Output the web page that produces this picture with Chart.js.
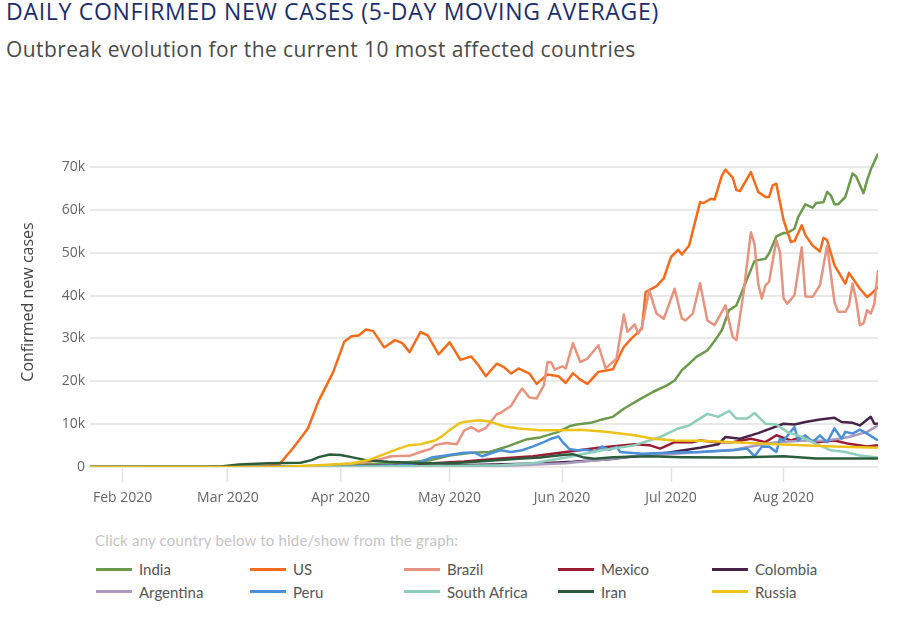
<!DOCTYPE html>
<html>
<head>
<meta charset="utf-8">
<title>Daily confirmed new cases</title>
<script src="https://cdn.jsdelivr.net/npm/chart.js@4.4.1/dist/chart.umd.min.js"></script>
<style>
  body { margin: 0; background: #fff; }
  .page { position: relative; width: 915px; height: 627px; overflow: hidden; }
  h1 { position: absolute; left: 6px; top: 0; margin: 0; font: 400 23px/23px 'Open Sans', sans-serif; letter-spacing: 0.7px; color: #1c2d6c; white-space: nowrap; }
  h2 { position: absolute; left: 6px; top: 39px; margin: 0; font: 400 21px/21px 'Open Sans', sans-serif; letter-spacing: 0.4px; color: #4a4a4a; white-space: nowrap; }
  #chart-box { position: absolute; left: 0; top: 100px; width: 915px; height: 420px; }
  .hint { position: absolute; left: 95px; top: 531px; font: 15px 'Lato', sans-serif; letter-spacing: 0.2px; color: #c4c4c4; }
  #legend { position: absolute; left: 96px; top: 558px; display: grid; grid-template-columns: repeat(5, 154px); }
  .item { display: flex; align-items: center; height: 22.5px; cursor: pointer; font: 15px 'Lato', sans-serif; color: #555; }
  .item.off { opacity: 0.35; }
  .swatch { width: 36px; height: 3px; margin-right: 7px; }
</style>
</head>
<body>
<div class="page">
  <h1>DAILY CONFIRMED NEW CASES (5-DAY MOVING AVERAGE)</h1>
  <h2>Outbreak evolution for the current 10 most affected countries</h2>
  <div id="chart-box"><canvas id="cases-chart"></canvas></div>
  <div class="hint">Click any country below to hide/show from the graph:</div>
  <div id="legend"></div>
</div>
<script>
// x = day of 2020 (Jan 1 = 0), y = new cases in thousands (5-day average)
const countries = ['India', 'US', 'Brazil', 'Mexico', 'Colombia', 'Argentina', 'Peru', 'South Africa', 'Iran', 'Russia']
const colors = ['#6c9a4c', '#f36c1c', '#e6937f', '#9c1b33', '#4a2348', '#aa9cc0', '#4a8fd8', '#8fceba', '#2b5d3d', '#ecc31a']

const monthTicks = [31, 60, 91, 121, 152, 182, 213]
const monthLabels = ['Feb 2020', 'Mar 2020', 'Apr 2020', 'May 2020', 'Jun 2020', 'Jul 2020', 'Aug 2020']
const yTicks = [0, 10000, 20000, 30000, 40000, 50000, 60000, 70000]
const yLabels = ['0', '10k', '20k', '30k', '40k', '50k', '60k', '70k']

const india = [[22,0],[60,0],[75,0.05],[85,0.2],[95,0.5],[105,0.9],[112,1.3],[116,1.6],[121,2.7],[127,3.3],[132,3.5],[137,4.8],[142,6.4],[146,6.9],[151,8.2],[154,9.5],[156,9.9],[160,10.3],[163,11.1],[166,11.7],[169,13.6],[173,15.6],[177,17.5],[181,19.1],[183,20.2],[185,22.6],[187,24.1],[189,25.7],[192,27.2],[194,29.4],[196,31.9],[198,36.6],[200,37.7],[203,44.0],[205,48.1],[208,48.6],[209,49.8],[211,53.8],[213,54.6],[214,54.6],[216,55.6],[217,58.3],[219,61.3],[221,60.5],[222,61.6],[224,61.8],[225,64.2],[226,63.4],[227,61.3],[228,61.3],[230,63.0],[232,68.5],[233,67.8],[235,63.9],[236,66.9],[237,69.4],[239,73.1]]
const us = [[22,0],[50,0],[60,0.01],[66,0.1],[70,0.3],[74,0.5],[78,4.5],[82,9.0],[85,15.5],[89,22.2],[92,29.2],[94,30.5],[96,30.7],[98,32.1],[100,31.7],[103,27.9],[106,29.6],[108,28.9],[110,26.8],[113,31.5],[115,30.7],[118,26.3],[121,29.1],[122,27.8],[124,25.0],[127,25.8],[129,23.7],[131,21.2],[134,24.1],[136,23.3],[138,21.8],[140,23.0],[143,21.8],[145,19.4],[148,21.6],[151,21.2],[153,19.6],[155,21.9],[157,20.4],[159,19.4],[162,22.2],[166,22.8],[169,28.0],[171,29.9],[174,32.3],[175,40.8],[178,42.2],[180,44.0],[182,49.0],[184,50.7],[185,49.6],[187,51.7],[190,61.8],[191,61.6],[193,62.6],[194,62.4],[196,68.0],[197,69.4],[199,67.5],[200,64.6],[201,64.4],[204,68.8],[206,64.2],[208,63.0],[209,63.0],[210,65.7],[211,66.1],[213,57.6],[215,52.5],[216,52.7],[218,56.4],[219,54.1],[221,51.7],[223,50.3],[224,53.5],[225,52.9],[227,47.1],[230,42.8],[231,45.3],[234,41.6],[236,39.7],[237,40.3],[239,42.0]]
const brazil = [[22,0],[60,0],[70,0.05],[80,0.2],[87,0.4],[94,0.8],[99,1.2],[105,2.5],[110,2.6],[113,3.5],[116,4.3],[117,5.1],[120,5.6],[123,5.3],[125,8.5],[127,9.3],[129,8.3],[131,9.1],[134,12.3],[135,12.6],[138,14.3],[140,17.1],[141,18.3],[143,16.2],[145,16.0],[147,19.1],[148,24.5],[149,24.4],[150,22.7],[152,23.5],[153,23.0],[155,28.9],[157,24.5],[159,25.3],[162,28.4],[164,23.0],[167,25.3],[169,35.6],[170,31.5],[172,33.3],[173,31.1],[174,32.7],[176,41.2],[178,35.8],[180,34.6],[183,41.6],[185,34.6],[186,34.2],[188,35.8],[190,42.9],[192,34.2],[194,33.1],[197,37.7],[199,30.3],[200,29.6],[202,40.8],[204,54.8],[205,52.0],[206,42.8],[207,39.3],[208,42.4],[209,43.2],[211,52.9],[212,50.2],[213,39.3],[214,38.1],[216,40.1],[218,51.3],[219,39.8],[221,39.7],[223,42.4],[225,51.7],[227,38.5],[228,36.2],[230,36.2],[231,37.7],[232,42.8],[233,38.9],[234,33.1],[235,33.5],[236,36.6],[237,35.8],[238,38.1],[239,45.9]]
const mexico = [[22,0],[80,0.02],[95,0.2],[105,0.4],[115,0.8],[125,1.3],[135,2.0],[144,2.5],[153,3.5],[162,4.5],[172,5.3],[176,5.1],[179,4.3],[183,5.8],[188,5.8],[190,6.2],[195,5.8],[199,5.8],[204,6.6],[208,5.8],[211,7.4],[215,6.2],[218,7.0],[222,5.8],[227,6.2],[231,5.4],[236,4.8],[239,5.1]]
const colombia = [[22,0],[90,0.05],[110,0.2],[130,0.5],[145,0.8],[155,1.2],[165,1.8],[172,2.5],[181,3.3],[190,4.5],[195,5.3],[197,7.0],[201,6.6],[206,7.9],[213,10.1],[216,9.9],[219,10.5],[223,11.1],[227,11.5],[229,10.5],[232,10.3],[234,9.7],[237,11.7],[238,10.1],[239,10.1]]
const argentina = [[22,0],[90,0.01],[110,0.05],[130,0.2],[140,0.4],[153,0.9],[163,1.7],[172,2.5],[181,3.0],[190,3.5],[199,4.0],[204,4.8],[211,5.8],[218,6.1],[225,6.2],[231,7.0],[236,8.2],[239,9.7]]
const peru = [[22,0],[75,0],[95,0.1],[107,0.4],[112,0.9],[116,2.2],[120,2.7],[125,3.3],[128,3.3],[130,2.5],[132,3.1],[135,3.9],[138,3.5],[141,3.9],[144,4.8],[147,5.8],[149,6.6],[151,7.1],[152,6.0],[154,4.2],[156,3.9],[159,4.0],[161,3.5],[163,4.8],[165,4.0],[167,4.7],[168,3.5],[174,3.1],[181,3.3],[190,3.5],[199,3.9],[203,4.3],[205,2.5],[207,4.7],[209,4.8],[211,3.5],[212,6.6],[213,6.2],[216,9.3],[217,6.2],[219,7.4],[221,5.8],[223,7.4],[225,5.8],[227,9.0],[229,6.6],[230,8.2],[232,7.8],[234,8.7],[236,7.8],[239,6.2]]
const southAfrica = [[22,0],[80,0.01],[95,0.05],[110,0.15],[125,0.3],[135,0.4],[144,0.9],[153,2.2],[163,3.9],[172,5.1],[179,7.0],[184,9.0],[187,9.7],[192,12.4],[195,11.7],[198,13.1],[200,11.3],[203,11.3],[205,12.6],[208,10.1],[211,9.9],[214,8.2],[218,7.0],[222,5.4],[226,3.9],[230,3.5],[234,2.7],[239,2.2]]
const iran = [[22,0],[54,0.02],[58,0.1],[63,0.6],[71,0.9],[80,1.0],[83,1.6],[85,2.3],[88,2.9],[91,2.8],[94,2.3],[98,1.6],[104,1.2],[113,0.9],[122,0.9],[131,1.4],[140,1.9],[146,2.2],[152,2.8],[155,3.0],[158,2.2],[161,1.9],[166,2.3],[176,2.5],[185,2.3],[200,2.2],[213,2.5],[222,2.0],[239,2.0]]
const russia = [[22,0],[60,0],[75,0.05],[85,0.4],[94,0.8],[99,1.7],[103,3.0],[107,4.3],[110,5.1],[113,5.3],[117,6.2],[119,7.2],[121,8.6],[122,9.2],[124,10.3],[125,10.5],[129,10.9],[132,10.6],[136,9.5],[140,9.0],[146,8.6],[152,8.6],[157,8.7],[164,8.2],[172,7.4],[177,6.6],[183,6.2],[190,6.1],[199,5.8],[208,5.4],[218,5.1],[227,4.8],[239,4.5]]

const series = [india, us, brazil, mexico, colombia, argentina, peru, southAfrica, iran, russia]

const datasets = countries.map((name, i) => ({
  label: name,
  data: series[i].map(p => ({ x: p[0], y: p[1] * 1000 })),
  borderColor: colors[i],
  backgroundColor: colors[i],
  borderWidth: 2.5,
  borderJoinStyle: 'round',
  pointRadius: 0,
  tension: 0,
  fill: false,
  order: countries.length - i   // later countries drawn on top, as in the original
}))

const chart = new Chart(document.getElementById('cases-chart'), {
  type: 'line',
  data: { datasets },
  options: {
    responsive: true,
    maintainAspectRatio: false,
    animation: false,
    layout: { padding: { top: 37, right: 37, left: 0, bottom: 0 } },
    plugins: { legend: { display: false }, tooltip: { enabled: false } },
    scales: {
      x: {
        type: 'linear',
        min: 22,
        max: 239,
        afterBuildTicks: axis => { axis.ticks = monthTicks.map(v => ({ value: v })) },
        afterFit: axis => { axis.height = 53 },
        border: { display: false },
        grid: { drawOnChartArea: false, drawTicks: true, tickLength: 15, tickColor: '#e2e2e2', tickWidth: 1.5 },
        ticks: {
          autoSkip: false,
          maxRotation: 0,
          padding: 8,
          color: '#666',
          font: { family: 'Open Sans', size: 14 },
          callback: v => monthLabels[monthTicks.indexOf(v)]
        }
      },
      y: {
        min: 0,
        max: 77000,
        afterBuildTicks: axis => { axis.ticks = yTicks.map(v => ({ value: v })) },
        afterFit: axis => { axis.width = 90 },
        border: { display: false },
        grid: { color: '#e9e9e9', lineWidth: 2, drawTicks: false },
        ticks: {
          padding: 5,
          color: '#666',
          font: { family: 'Open Sans', size: 14 },
          callback: v => yLabels[yTicks.indexOf(v)]
        },
        title: {
          display: true,
          text: 'Confirmed new cases',
          color: '#444',
          font: { family: 'Open Sans', size: 16 },
          padding: { top: 19, bottom: 0 }
        }
      }
    }
  }
})

const legendBox = document.getElementById('legend')
countries.forEach((name, i) => {
  const item = document.createElement('div')
  item.className = 'item'
  item.innerHTML = `<span class="swatch" style="background:${colors[i]}"></span>${name}`
  item.addEventListener('click', () => {
    const visible = chart.isDatasetVisible(i)
    chart.setDatasetVisibility(i, !visible)
    item.classList.toggle('off', visible)
    chart.update()
  })
  legendBox.appendChild(item)
})
</script>
</body>
</html>
